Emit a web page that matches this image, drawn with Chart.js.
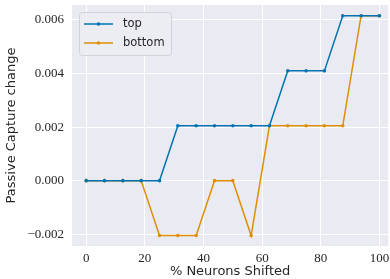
<!DOCTYPE html>
<html>
<head>
<meta charset="utf-8">
<script src="https://cdn.jsdelivr.net/npm/chart.js@4/dist/chart.umd.min.js"></script>
<style>
  html, body { margin: 0; padding: 0; background: #fff; }
  #wrap { width: 390px; height: 279px; }
</style>
</head>
<body>
<div id="wrap"><canvas id="myChart" width="390" height="279"></canvas></div>
<script>
'use strict';

// % neurons shifted
let shifted = [0, 6.25, 12.5, 18.75, 25, 31.25, 37.5, 43.75, 50, 56.25, 62.5, 68.75, 75, 81.25, 87.5, 93.75, 100];
let topValues = [0, 0, 0, 0, 0, 0.00205, 0.00205, 0.00205, 0.00205, 0.00205, 0.00205, 0.0041, 0.0041, 0.0041, 0.00616, 0.00616, 0.00616];
let bottomValues = [0, 0, 0, 0, -0.00205, -0.00205, -0.00205, 0, 0, -0.00205, 0.00205, 0.00205, 0.00205, 0.00205, 0.00205, 0.00616, 0.00616];

let xTicks = [0, 20, 40, 60, 80, 100];
let yTicks = [-0.002, 0.000, 0.002, 0.004, 0.006];

let seriesNames = ['top', 'bottom'];
let seriesColors = ['#0173b2', '#de8f05'];

function toPoints( values ) {
  return values.map( ( v, i ) => ( { x: shifted[i], y: v } ) );
}

function fmtY( v ) {
  let s = Math.abs( v ).toFixed( 3 );
  return v < -1e-9 ? '\u2212' + s : s;
}

// grey plot background
let plotBg = {
  id: 'plotBg',
  beforeDraw( chart ) {
    let a = chart.chartArea;
    let ctx = chart.ctx;
    ctx.save();
    ctx.fillStyle = '#eaeaf2';
    ctx.fillRect( a.left, a.top, a.right - a.left, a.bottom - a.top );
    ctx.restore();
  }
};

// legend box in the upper left, like matplotlib
let boxLegend = {
  id: 'boxLegend',
  afterDatasetsDraw( chart ) {
    let ctx = chart.ctx;
    let x = 79, y = 12, w = 92, h = 43;
    ctx.save();
    ctx.fillStyle = 'rgba(236,236,243,0.9)';
    ctx.strokeStyle = '#d2d2da';
    ctx.lineWidth = 1;
    ctx.beginPath();
    ctx.roundRect( x + 0.5, y + 0.5, w, h, 3 );
    ctx.fill();
    ctx.stroke();

    chart.data.datasets.forEach( ( ds, i ) => {
      let ly = 24 + i * 19;
      ctx.strokeStyle = ds.borderColor;
      ctx.lineWidth = 1.5;
      ctx.beginPath();
      ctx.moveTo( 84, ly );
      ctx.lineTo( 113, ly );
      ctx.stroke();
      ctx.fillStyle = ds.borderColor;
      ctx.beginPath();
      ctx.arc( 98.5, ly, 1.8, 0, Math.PI * 2 );
      ctx.fill();
      ctx.fillStyle = '#262626';
      ctx.font = '11.5px "DejaVu Sans"';
      ctx.textBaseline = 'middle';
      ctx.fillText( ds.label, 123, ly );
    } );
    ctx.restore();
  }
};

let ctx = document.getElementById( 'myChart' ).getContext( '2d' );

let myChart = new Chart( ctx, {
  type: 'line',
  data: {
    datasets: [
      {
        label: seriesNames[0],
        data: toPoints( topValues ),
        borderColor: seriesColors[0],
        backgroundColor: seriesColors[0],
        borderWidth: 1.5,
        pointRadius: 1.8,
        pointHoverRadius: 1.8,
        pointBorderWidth: 0,
        tension: 0
      },
      {
        label: seriesNames[1],
        data: toPoints( bottomValues ),
        borderColor: seriesColors[1],
        backgroundColor: seriesColors[1],
        borderWidth: 1.5,
        pointRadius: 1.8,
        pointHoverRadius: 1.8,
        pointBorderWidth: 0,
        tension: 0
      }
    ]
  },
  options: {
    responsive: false,
    animation: false,
    events: [],
    layout: { padding: { top: 5, left: 0, right: 0, bottom: 0 } },
    plugins: {
      legend: { display: false },
      tooltip: { enabled: false }
    },
    scales: {
      x: {
        type: 'linear',
        min: -4.85,
        max: 103,
        afterBuildTicks: s => { s.ticks = xTicks.map( v => ( { value: v } ) ); },
        afterFit: s => { s.height = 33; s.paddingLeft = 0; s.paddingRight = 0; },
        grid: { color: '#ffffff', lineWidth: 1, drawTicks: false },
        border: { display: false },
        ticks: {
          color: '#262626',
          font: { family: '"Liberation Serif"', size: 13 },
          padding: 5,
          maxRotation: 0
        },
        title: {
          display: true,
          text: '% Neurons Shifted',
          color: '#262626',
          font: { family: '"DejaVu Sans"', size: 13 },
          padding: { top: 0, bottom: 0 }
        }
      },
      y: {
        min: -0.00244,
        max: 0.00656,
        afterBuildTicks: s => { s.ticks = yTicks.map( v => ( { value: v } ) ); },
        afterFit: s => { s.width = 72; s.paddingTop = 0; s.paddingBottom = 0; },
        grid: { color: '#ffffff', lineWidth: 1, drawTicks: false },
        border: { display: false },
        ticks: {
          color: '#262626',
          font: { family: '"Liberation Serif"', size: 13 },
          padding: 8,
          callback: v => fmtY( v )
        },
        title: {
          display: true,
          text: 'Passive Capture change',
          color: '#262626',
          font: { family: '"DejaVu Sans"', size: 13 },
          padding: { top: 4, bottom: 0 }
        }
      }
    }
  },
  plugins: [plotBg, boxLegend]
} );
</script>
</body>
</html>
